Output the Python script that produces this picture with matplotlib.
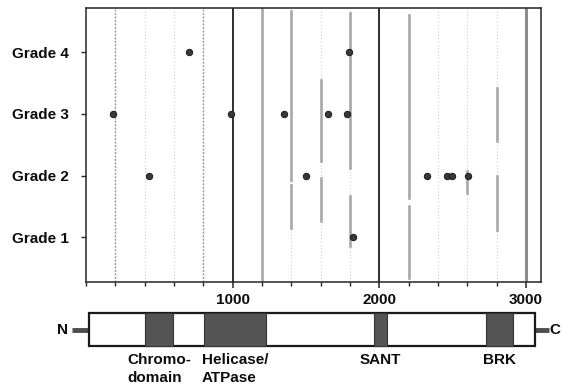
"""
Mutation positions by tumour grade along the protein, with domain map below.
Values read off the scanned figure.
"""

import matplotlib
matplotlib.use("Agg")
import matplotlib.pyplot as plt
from matplotlib.patches import Rectangle
from matplotlib.ticker import MultipleLocator, FixedLocator

plt.rcParams["font.family"] = ["Liberation Sans", "DejaVu Sans"]
plt.rcParams["font.weight"] = "bold"

# ---------------------------------------------------------------------------
# Data
# ---------------------------------------------------------------------------
GRADE_LABELS = ["Grade 1", "Grade 2", "Grade 3", "Grade 4"]
GRADE1_POS = [1822]
GRADE2_POS = [429, 1497, 2329, 2465, 2497, 2602]
GRADE3_POS = [186, 988, 1347, 1652, 1783]
GRADE4_POS = [702, 1791]

X_TICKS = [1000, 2000, 3000]

# vertical guide lines (every 200 residues), drawn as they appear in the scan
GUIDE_DARK = [1000, 2000]
GUIDE_THICK = [3000]
GUIDE_FAINT = [400, 600, 1400, 1600, 1800, 2400, 2600, 2800]
GUIDE_MID = [200, 800]
# solid grey pieces, in axes fraction (bottom, top)
GUIDE_SOLID = {
    1200: [(0.0, 1.0)],
    1400: [(0.374, 0.989), (0.197, 0.355)],
    1600: [(0.441, 0.739), (0.223, 0.380)],
    1800: [(0.417, 0.983), (0.132, 0.314)],
    2200: [(0.307, 0.977), (0.015, 0.278)],
    2600: [(0.325, 0.406)],
    2800: [(0.515, 0.709), (0.190, 0.387)],
}

# protein map (residues)
PROTEIN_START, PROTEIN_END = 22, 3062
DOMAIN_NAMES = ["Chromo-\ndomain", "Helicase/\nATPase", "SANT", "BRK"]
DOMAIN_START = [402, 802, 1966, 2725]
DOMAIN_END = [591, 1230, 2050, 2912]

# ---------------------------------------------------------------------------
# Figure
# ---------------------------------------------------------------------------
W, H = 563, 387
fig = plt.figure(figsize=(W / 100, H / 100), dpi=100)

x_left, x_right = 86.1, 540.5
ax = fig.add_axes([x_left / W, 1 - 282 / H, (x_right - x_left) / W, (282 - 8.3) / H])

ink = "0.15"
fs = 11

for x in GUIDE_DARK:
    ax.axvline(x, color="0.12", lw=1.3, zorder=1)
for x in GUIDE_THICK:
    ax.axvline(x, color="0.55", lw=2.2, zorder=1)
for x in GUIDE_MID:
    ax.axvline(x, color="0.6", lw=1.0, ls=(0, (1.5, 1)), zorder=1)
for x in GUIDE_FAINT:
    ax.axvline(x, color="0.8", lw=0.8, ls=(0, (1, 2)), zorder=1)
for x, spans in GUIDE_SOLID.items():
    for lo, hi in spans:
        ax.axvline(x, lo, hi, color="0.66", lw=1.9, zorder=1)

for g, pos in enumerate([GRADE1_POS, GRADE2_POS, GRADE3_POS, GRADE4_POS], start=1):
    ax.plot(pos, [g] * len(pos), "o", ms=4.6, color="0.22", mec="0.1", mew=0.7,
            zorder=3, ls="none")

ax.set_xlim(0, 3100)
ax.set_ylim(0.275, 4.713)
ax.xaxis.set_major_locator(FixedLocator(X_TICKS))
ax.xaxis.set_minor_locator(MultipleLocator(200))
ax.set_yticks([1, 2, 3, 4])
ax.set_yticklabels(GRADE_LABELS)
ax.tick_params(axis="x", which="major", direction="out", length=4, width=1.1,
               color=ink, labelsize=fs, labelcolor="0.05", pad=4)
ax.tick_params(axis="x", which="minor", direction="out", length=3, width=1,
               color=ink)
ax.tick_params(axis="y", direction="out", length=3.5, width=1, color=ink,
               labelsize=fs, labelcolor="0.05", pad=9)
for s in ax.spines.values():
    s.set_color(ink)
    s.set_linewidth(1.1)

# ---------------------------------------------------------------------------
# Protein domain map (y in pixel units of the figure)
# ---------------------------------------------------------------------------
ax2 = fig.add_axes([x_left / W, 0, (x_right - x_left) / W, 92 / H])
ax2.set_xlim(0, 3100)
ax2.set_ylim(387, 295)
ax2.axis("off")

box_top, box_bot = 312.7, 346.0
mid = (box_top + box_bot) / 2 + 1
ax2.plot([-98, PROTEIN_START], [mid, mid], color="0.3", lw=3.5,
         solid_capstyle="butt", clip_on=False)
ax2.plot([PROTEIN_END, 3160], [mid, mid], color="0.3", lw=3.5,
         solid_capstyle="butt", clip_on=False)
ax2.add_patch(Rectangle((PROTEIN_START, box_top), PROTEIN_END - PROTEIN_START,
                        box_bot - box_top, facecolor="white", edgecolor="0.1",
                        lw=1.6, zorder=2, clip_on=False))
for name, a, b in zip(DOMAIN_NAMES, DOMAIN_START, DOMAIN_END):
    ax2.add_patch(Rectangle((a, box_top), b - a, box_bot - box_top,
                            facecolor="0.33", edgecolor="0.2", lw=0.8, zorder=3))
    ax2.text((a + b) / 2, 353.5, name, ha="center", va="top", fontsize=fs,
             color="0.05", multialignment="left", linespacing=1.28)

ax2.text(-161, mid, "N", ha="center", va="center", fontsize=fs, color="0.05",
         clip_on=False)
ax2.text(3160, mid, "C", ha="left", va="center", fontsize=fs, color="0.05",
         clip_on=False)

fig.savefig("out.png", dpi=100)
